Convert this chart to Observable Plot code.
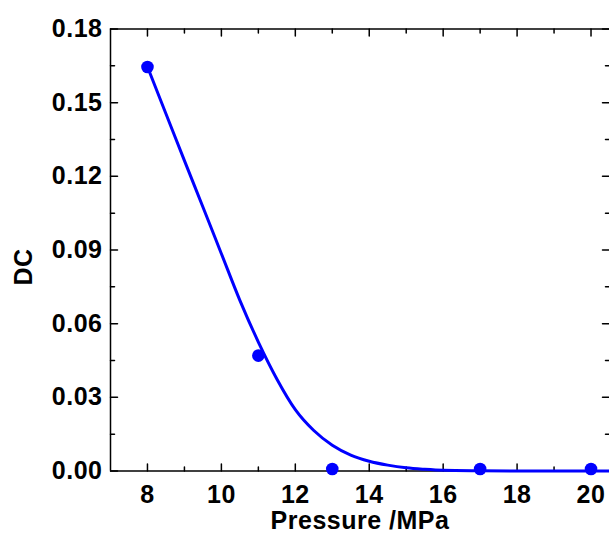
<!DOCTYPE html>
<html>
<head>
<meta charset="utf-8">
<script src="https://cdn.jsdelivr.net/npm/d3@7"></script>
<script src="https://cdn.jsdelivr.net/npm/@observablehq/plot@0.6"></script>
<style>
  html, body { margin: 0; padding: 0; background: #fff; }
  #chart svg { display: block; }
</style>
</head>
<body>
<div id="chart"></div>
<script>
// Measured points
const pressure = [8, 11, 13, 17, 20];
const dc = [0.1645, 0.047, 0.0008, 0.0008, 0.0008];

// Fitted curve
const fitPressure = [8, 8.5, 9, 9.5, 10, 10.5, 11, 11.5, 12, 12.5, 13, 13.5, 14, 14.5, 15, 15.5, 16, 17, 18, 19, 20, 20.5];
const fitDC = [0.1646, 0.1455, 0.1264, 0.1075, 0.0885, 0.0695, 0.0525, 0.0375, 0.0250, 0.0165, 0.0105, 0.0065, 0.0040, 0.0024, 0.0013, 0.0007, 0.0003, 0.0001, 0, 0, 0, 0];

// Ticks
const xMajor = [8, 10, 12, 14, 16, 18, 20];
const xMinor = [9, 11, 13, 15, 17, 19];
const yMajor = [0, 0.03, 0.06, 0.09, 0.12, 0.15, 0.18];
const yMinor = [0.015, 0.045, 0.075, 0.105, 0.135, 0.165];

const xLabel = "Pressure /MPa";
const yLabel = "DC";

const points = pressure.map((p, i) => ({p, v: dc[i]}));
const fit = fitPressure.map((p, i) => ({p, v: fitDC[i]}));

const tickShape = {draw(ctx, l) { ctx.moveTo(0, 0); ctx.lineTo(0, -l); }};
const tk = (o) => ({stroke: "black", strokeWidth: 1.5, anchor: "start", shape: tickShape, ...o});

const chart = Plot.plot({
  width: 609,
  height: 534,
  marginLeft: 110,
  marginRight: 0,
  marginTop: 28.5,
  marginBottom: 63.5,
  style: {fontFamily: "'Liberation Sans', Arial, sans-serif", fontWeight: "bold", fontSize: "25px", color: "black", background: "white", letterSpacing: "0.5px"},
  x: {domain: [7, 20.5]},
  y: {domain: [0, 0.18]},
  marks: [
    Plot.axisX(xMajor, {anchor: "bottom", tickSize: 0, tickPadding: 14, label: null, tickFormat: d3.format("d")}),
    Plot.axisY(yMajor, {anchor: "left", tickSize: 0, tickPadding: 8, label: null, tickFormat: d3.format(".2f")}),
    // inward ticks
    Plot.vectorY(yMajor, tk({frameAnchor: "left", rotate: 90, length: 7})),
    Plot.vectorY(yMinor, tk({frameAnchor: "left", rotate: 90, length: 4})),
    Plot.vectorY(yMajor, tk({frameAnchor: "right", rotate: -90, length: 7})),
    Plot.vectorY(yMinor, tk({frameAnchor: "right", rotate: -90, length: 4})),
    Plot.vectorX(xMajor, tk({frameAnchor: "bottom", rotate: 0, length: 7})),
    Plot.vectorX(xMinor, tk({frameAnchor: "bottom", rotate: 0, length: 4})),
    Plot.vectorX(xMajor, tk({frameAnchor: "top", rotate: 180, length: 7})),
    Plot.vectorX(xMinor, tk({frameAnchor: "top", rotate: 180, length: 4})),
    // frame (right edge lies outside the picture)
    Plot.ruleY([0, 0.18], {stroke: "black", strokeWidth: 1.5}),
    Plot.ruleX([7], {stroke: "black", strokeWidth: 1.5}),
    // fit curve and points
    Plot.line(fit, {x: "p", y: "v", stroke: "#0000ff", strokeWidth: 3, curve: "monotone-x"}),
    Plot.dot(points, {x: "p", y: "v", r: 6.3, fill: "#0000ff", stroke: "none"}),
    // axis titles
    Plot.text([xLabel], {frameAnchor: "bottom", text: d => d, lineAnchor: "bottom", dy: 58, textAnchor: "middle", fill: "black"}),
    Plot.text([yLabel], {frameAnchor: "left", text: d => d, rotate: -90, dx: -87, dy: 17, textAnchor: "middle", lineAnchor: "middle", fill: "black"})
  ]
});
document.getElementById("chart").append(chart);
</script>
</body>
</html>
